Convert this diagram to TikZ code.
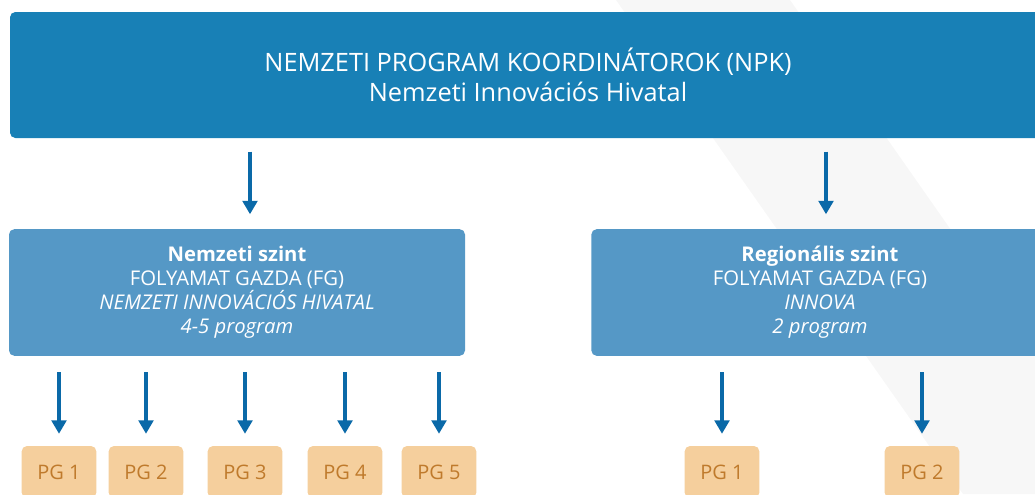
\documentclass[tikz,border=0pt]{standalone}
\usepackage{fontspec}
\setmainfont{Open Sans}
\usetikzlibrary{arrows.meta,positioning}
\definecolor{npkblue}{HTML}{1880B6}
\definecolor{szintblue}{HTML}{5598C6}
\definecolor{arrowblue}{HTML}{0A69A8}
\definecolor{pgfill}{HTML}{F5CF9D}
\definecolor{pgtext}{HTML}{BF7A2C}
\definecolor{bandgray}{HTML}{F7F7F7}
\tikzset{%
    >={Triangle[width=11pt,length=10pt]},
    % box styles
    base/.style = {
        rectangle, rounded corners=4pt, draw=none,
        text=white, align=center, inner sep=0pt
    },
    npkbox/.style = {base, fill=npkblue, font=\fontsize{19}{22.5}\selectfont},
    szint/.style = {base, fill=szintblue, font=\fontsize{15.2}{18}\selectfont},
    pgbox/.style = {base, fill=pgfill, text=pgtext,
        minimum width=56pt, minimum height=39pt,
        font=\fontsize{15}{16}\selectfont},
    arr/.style = {->, draw=arrowblue, line width=2.3pt}
}

\begin{document}
\begin{tikzpicture}[x=0.75pt,y=-0.75pt]
    \useasboundingbox (0,0) rectangle (1035,494);
    \clip (0,0) rectangle (1035,494);
    % background band
    \fill[bandgray] (616,0) -- (790,0) -- (1035,350) -- (1035,494) -- (963,494) -- cycle;
    % top level
    \node[npkbox, minimum width=777pt, minimum height=94.5pt] (npk) at (528,75)
        {NEMZETI PROGRAM KOORDINÁTOROK (NPK)\\Nemzeti Innovációs Hivatal};
    % second level
    \node[szint, minimum width=342pt, minimum height=95pt] (nsz) at (237,292.5)
        {\textbf{Nemzeti szint}\\FOLYAMAT GAZDA (FG)\\\textit{NEMZETI INNOVÁCIÓS HIVATAL}\\\textit{4-5 program}};
    \node[szint, minimum width=343pt, minimum height=95pt] (rsz) at (820,292.5)
        {\textbf{Regionális szint}\\FOLYAMAT GAZDA (FG)\\\textit{INNOVA}\\\textit{2 program}};
    \coordinate (a1) at (250,0);
    \coordinate (a2) at (826,0);
    \draw[arr, shorten <=10pt, shorten >=11pt] (npk.south -| a1) -- (nsz.north -| a1);
    \draw[arr, shorten <=10pt, shorten >=11pt] (npk.south -| a2) -- (rsz.north -| a2);
    % program groups
    \node[pgbox] (pg1) at (59,472) {PG 1};
    \node[pgbox] (pg2) at (146,472) {PG 2};
    \node[pgbox] (pg3) at (245,472) {PG 3};
    \node[pgbox] (pg4) at (345,472) {PG 4};
    \node[pgbox] (pg5) at (439,472) {PG 5};
    \node[pgbox] (rpg1) at (722,472) {PG 1};
    \node[pgbox] (rpg2) at (922,472) {PG 2};
    \foreach \p in {pg1,pg2,pg3,pg4,pg5}
        \draw[arr, shorten <=12pt, shorten >=9pt] (nsz.south -| \p) -- (\p.north);
    \foreach \p in {rpg1,rpg2}
        \draw[arr, shorten <=12pt, shorten >=9pt] (rsz.south -| \p) -- (\p.north);
\end{tikzpicture}
\end{document}
